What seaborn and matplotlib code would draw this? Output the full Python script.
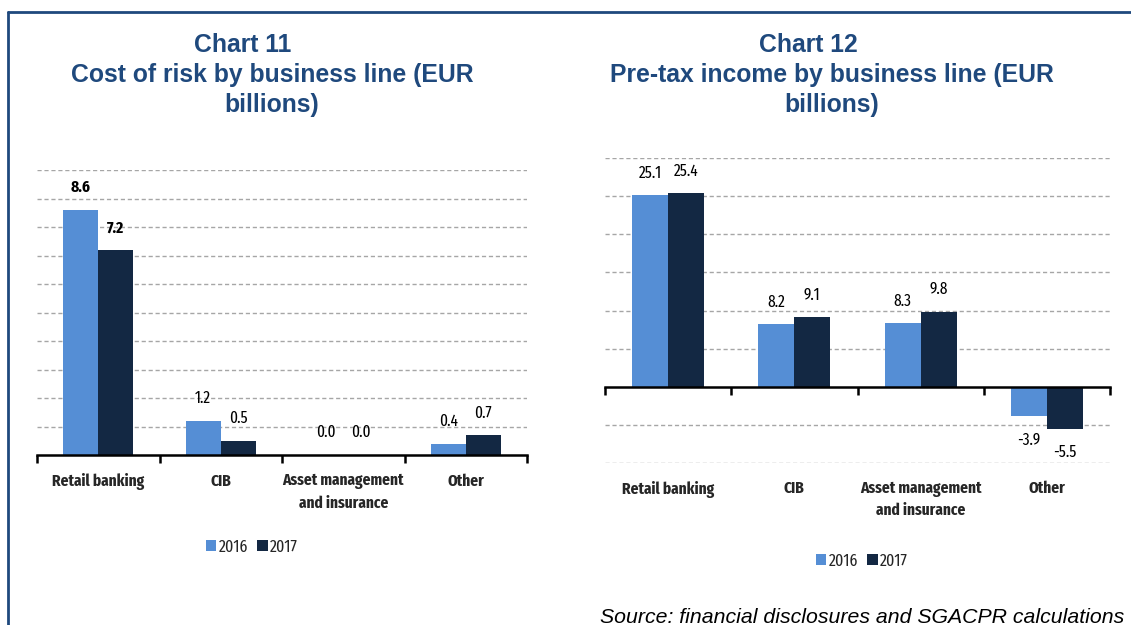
import matplotlib
matplotlib.use("Agg")
import matplotlib.pyplot as plt
from matplotlib.patches import Patch
from matplotlib.lines import Line2D
import seaborn as sns
import pandas as pd

# data
business_lines = ["Retail banking", "CIB", "Asset management\nand insurance", "Other"]
years = ["2016", "2017"]
cost_2016 = [8.6, 1.2, 0.0, 0.4]
cost_2017 = [7.2, 0.5, 0.0, 0.7]
income_2016 = [25.1, 8.2, 8.3, -3.9]
income_2017 = [25.4, 9.1, 9.8, -5.5]

col_2016 = "#558ED5"
col_2017 = "#132843"
title_col = "#1F497D"
grid_col = "#A6A6A6"

sns.set_theme(style="white")
plt.rcParams["font.family"] = ["Fira Sans Extra Condensed", "Carlito", "DejaVu Sans"]
arial = ["Liberation Sans", "DejaVu Sans"]


def make_df(v16, v17):
    return pd.DataFrame({
        "line": business_lines * 2,
        "year": [years[0]] * len(v16) + [years[1]] * len(v17),
        "value": list(v16) + list(v17),
    })


def draw_panel(ax, df, ylim, step, label_y, bold_first=False):
    sns.barplot(data=df, x="line", y="value", hue="year",
                palette=[col_2016, col_2017], width=0.57, saturation=1,
                ax=ax, legend=False, edgecolor="none")
    ax.set_xlim(-0.5, len(business_lines) - 0.5)
    ax.set_ylim(*ylim)
    # dashed grid
    y = ylim[0]
    while y <= ylim[1] + 1e-9:
        if abs(y) > 1e-9:
            ax.axhline(y, color=grid_col, lw=1, ls=(0, (3, 2)), zorder=0)
        y += step
    for s in ["top", "right", "left"]:
        ax.spines[s].set_visible(False)
    ax.spines["bottom"].set_position(("data", 0))
    ax.spines["bottom"].set_color("black")
    ax.spines["bottom"].set_linewidth(1.8)
    ax.set_yticks([])
    ax.set_xticks([i - 0.5 for i in range(len(business_lines) + 1)])
    ax.set_xticklabels([])
    ax.tick_params(axis="x", direction="out", length=6, width=1.8,
                   color="black", bottom=True)
    ax.set_xlabel("")
    ax.set_ylabel("")
    # value labels
    for container in ax.containers:
        for i, bar in enumerate(container):
            h = bar.get_height()
            x = bar.get_x() + bar.get_width() / 2
            top = bar.get_y() + h
            off = 16 if h >= 0 else -17
            weight = "bold" if (bold_first and i == 0) else "normal"
            ax.annotate(f"{h:.1f}", (x, top), xytext=(0, off),
                        textcoords="offset points", ha="center", va="center",
                        fontsize=12, fontweight=weight, color="black")
    # category labels under the plot
    for i, name in enumerate(business_lines):
        ax.text(i, label_y, name, transform=ax.get_xaxis_transform(),
                ha="center", va="top", fontsize=12, fontweight="bold",
                linespacing=1.5)


fig = plt.figure(figsize=(11.31, 6.25), dpi=100)
W, H = 1131, 625

ax1 = fig.add_axes([37 / W, 1 - 455 / H, 490 / W, 285 / H])
draw_panel(ax1, make_df(cost_2016, cost_2017), (0, 10), 1, -0.064, bold_first=True)

ax2 = fig.add_axes([605 / W, 1 - 463 / H, 505 / W, 305 / H])
draw_panel(ax2, make_df(income_2016, income_2017), (-10, 30), 5, -0.058)

# titles
tkw = dict(ha="center", va="center", fontsize=17.8, fontweight="bold",
           color=title_col, family=arial)
fig.text(243 / W, 1 - 45 / H, "Chart 11", **tkw)
fig.text(272 / W, 1 - 75 / H, "Cost of risk by business line (EUR", **tkw)
fig.text(272 / W, 1 - 105 / H, "billions)", **tkw)
fig.text(808 / W, 1 - 45 / H, "Chart 12", **tkw)
fig.text(832 / W, 1 - 75 / H, "Pre-tax income by business line (EUR", **tkw)
fig.text(832 / W, 1 - 105 / H, "billions)", **tkw)

# legends
handles = [Patch(facecolor=col_2016, edgecolor="none", label=years[0]),
           Patch(facecolor=col_2017, edgecolor="none", label=years[1])]
lkw = dict(ncol=2, frameon=False, fontsize=12.5, handlelength=0.6,
           handleheight=0.6, handletextpad=0.15, columnspacing=0.5,
           loc="center")
fig.legend(handles=handles, bbox_to_anchor=(252 / W, 1 - 547 / H), **lkw)
fig.legend(handles=handles, bbox_to_anchor=(862 / W, 1 - 561 / H), **lkw)

# source note
fig.text(1124 / W, 1 - 623 / H, "Source: financial disclosures and SGACPR calculations",
         ha="right", va="baseline", fontsize=15.3, style="italic", color="black",
         family=arial)

# frame
fig.add_artist(Line2D([8 / W, 8 / W], [0, 1 - 12 / H], color=title_col, lw=2,
                      transform=fig.transFigure))
fig.add_artist(Line2D([8 / W, 1], [1 - 12 / H, 1 - 12 / H], color=title_col, lw=2,
                      transform=fig.transFigure))

fig.savefig("out.png", dpi=100)
